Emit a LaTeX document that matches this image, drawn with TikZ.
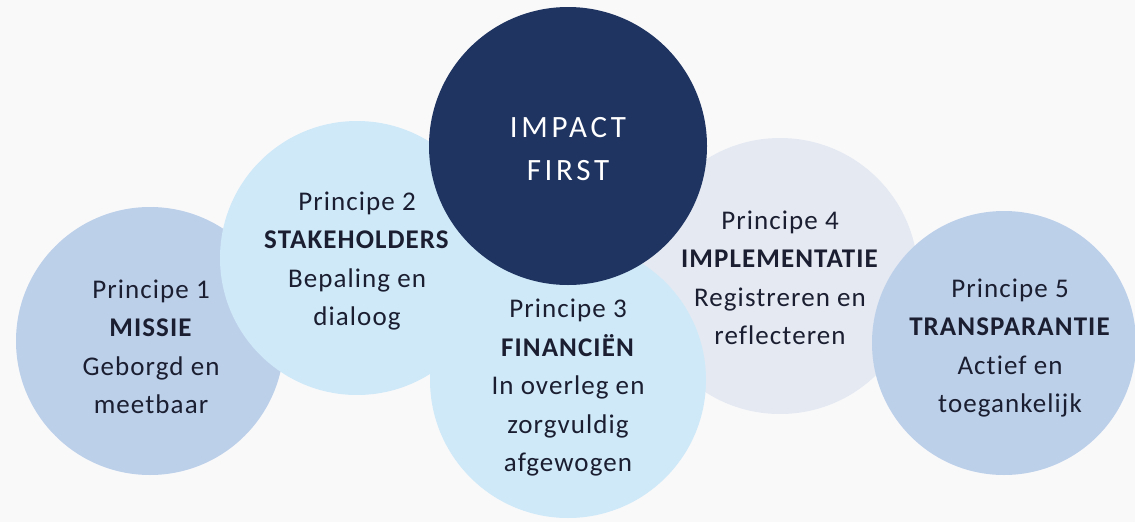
\documentclass[tikz,border=0pt]{standalone}
\usepackage{fontspec}
\setmainfont{Carlito}[LetterSpace=4,Ligatures={NoCommon}]
\newfontfamily\impactfont{Carlito}[LetterSpace=12,Ligatures={NoCommon}]
\definecolor{bgcol}{HTML}{F9F9FA}
\definecolor{greyblue}{HTML}{BDD0EA}
\definecolor{skyblue}{HTML}{CFE9F8}
\definecolor{paleblue}{HTML}{E4E9F2}
\definecolor{navy}{HTML}{1F3461}
\definecolor{inkcol}{HTML}{1A1E30}
\begin{document}
\begin{tikzpicture}[x=1pt,y=-1pt,
  disc/.style={circle, inner sep=0pt, draw=none},
  txt/.style={align=center, text=inkcol, inner sep=0pt, font=\fontsize{27}{38.5}\selectfont},
  bigtxt/.style={align=center, text=white, inner sep=0pt, font=\impactfont\fontsize{31}{43}\selectfont}]
\fill[bgcol] (0,0) rectangle (1135,522);
\useasboundingbox (0,0) rectangle (1135,522);
% circles, back to front
\node[disc, fill=greyblue, minimum size=268pt] (c1) at (150,341) {};
\node[disc, fill=skyblue, minimum size=274pt] (c2) at (357,258) {};
\node[disc, fill=paleblue, minimum size=276pt] (c4) at (780,276) {};
\node[disc, fill=greyblue, minimum size=264pt] (c5) at (1004,343) {};
\node[disc, fill=skyblue, minimum size=276pt] (c3) at (568,380) {};
\node[disc, fill=navy, minimum size=278pt] (c0) at (568,146) {};
% texts
\node[bigtxt] (t0) at (568,149) {IMPACT\\FIRST};
\node[txt] (t1) at (151,347) {Principe 1\\\textbf{MISSIE}\\Geborgd en\\meetbaar};
\node[txt] (t2) at (357,261) {Principe 2\\\textbf{STAKEHOLDERS}\\Bepaling en\\dialoog};
\node[txt] (t3) at (568,388) {Principe 3\\\textbf{FINANCIËN}\\In overleg en\\zorgvuldig\\afgewogen};
\node[txt] (t4) at (780,278) {Principe 4\\\textbf{IMPLEMENTATIE}\\Registreren en\\reflecteren};
\node[txt] (t5) at (1010,348) {Principe 5\\\textbf{TRANSPARANTIE}\\Actief en\\toegankelijk};
\end{tikzpicture}
\end{document}
